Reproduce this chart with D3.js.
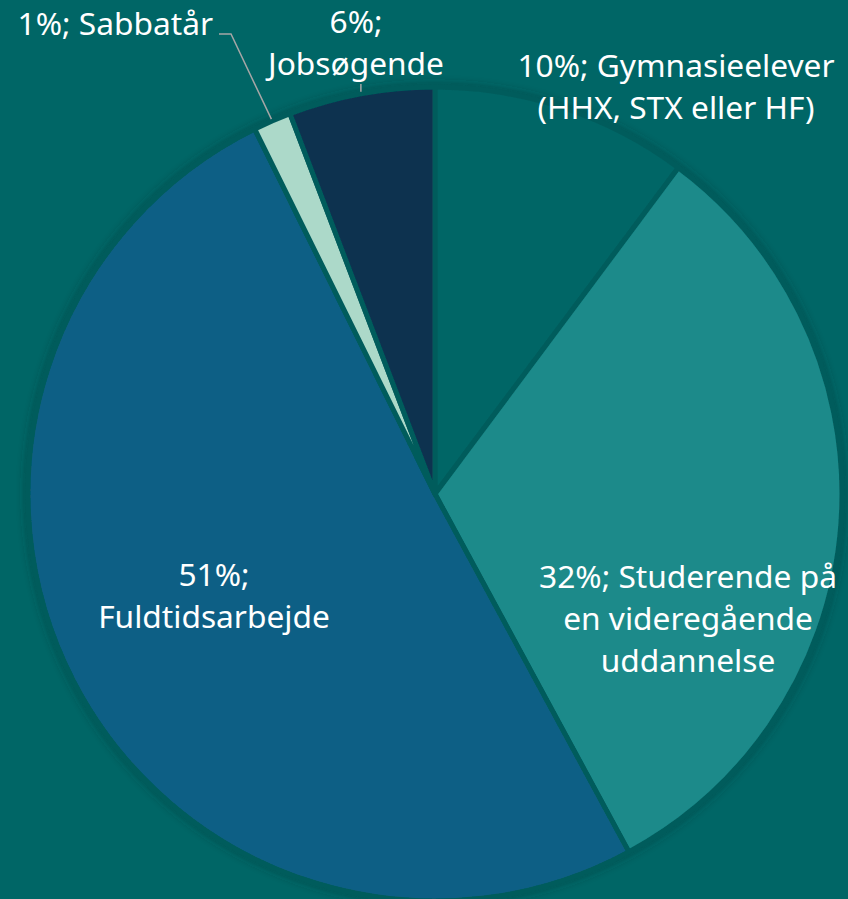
<!DOCTYPE html>
<html>
<head>
<meta charset="utf-8">
<script src="https://cdnjs.cloudflare.com/ajax/libs/d3/7.8.5/d3.min.js"></script>
<style>
  html, body { margin: 0; padding: 0; background: #006666; overflow: hidden; }
  svg { display: block; }
  .lbl { font-family: "Noto Sans", "Open Sans", sans-serif; font-size: 31.7px; fill: #ffffff; }
</style>
</head>
<body>
<svg id="chart" width="848" height="899"></svg>
<script>
// slices, clockwise from 12 o'clock
var categories = ["Gymnasieelever", "Studerende", "Fuldtidsarbejde", "Sabbatår", "Jobsøgende"];
var values = [10.2, 31.9, 50.6, 1.5, 5.8];
var colors = ["#006666", "#1a8a8a", "#0b5f85", "#acd9c9", "#0a3150"];
var labelLines = [
    ["10%; Gymnasieelever", "(HHX, STX eller HF)"],
    ["32%; Studerende på", "en videregående", "uddannelse"],
    ["51%;", "Fuldtidsarbejde"],
    ["1%; Sabbatår"],
    ["6%;", "Jobsøgende"]
];

var width = 848, height = 899;
var cx = 435, cy = 494, radius = 407;

var svg = d3.select("#chart");

var defs = svg.append("defs");
var shadow = defs.append("filter")
    .attr("id", "pieShadow")
    .attr("x", "-10%").attr("y", "-10%")
    .attr("width", "120%").attr("height", "120%");
shadow.append("feDropShadow")
    .attr("dx", 0).attr("dy", 0)
    .attr("stdDeviation", 5)
    .attr("flood-color", "#003030")
    .attr("flood-opacity", 0.5);

var pie = d3.pie().sort(null).value(function (d) { return d; });
var arcs = pie(values);
var arc = d3.arc().innerRadius(0).outerRadius(radius);

var g = svg.append("g").attr("transform", "translate(" + cx + "," + cy + ")");

g.append("g")
    .attr("filter", "url(#pieShadow)")
    .selectAll("path")
    .data(arcs)
    .enter()
    .append("path")
    .attr("d", arc)
    .attr("fill", function (d, i) { return colors[i]; })
    .attr("stroke", "#045c5c")
    .attr("stroke-width", 5)
    .attr("stroke-linejoin", "round");

// label anchor points (first baseline, absolute coords)
var labelPos = [
    { x: 676, y: 77, anchor: "middle" },
    { x: 688, y: 588, anchor: "middle" },
    { x: 214, y: 586, anchor: "middle" },
    { x: 213, y: 35, anchor: "end" },
    { x: 356, y: 33, anchor: "middle" }
];
var lineHeight = 42;

// leader lines for the two small slices
var angle = function (d) { return (d.startAngle + d.endAngle) / 2; };
var edgePt = function (d, r) {
    var a = angle(d);
    return [cx + r * Math.sin(a), cy - r * Math.cos(a)];
};

var sab = edgePt(arcs[3], radius + 2);
svg.append("polyline")
    .attr("points", [[219, 34], [231, 34], sab].map(function (p) { return p.join(","); }).join(" "))
    .attr("fill", "none")
    .attr("stroke", "#a6a6a6")
    .attr("stroke-width", 1.5);

var job = edgePt(arcs[4], radius + 2);
svg.append("line")
    .attr("x1", job[0]).attr("y1", job[1])
    .attr("x2", job[0]).attr("y2", 84)
    .attr("stroke", "#a6a6a6")
    .attr("stroke-width", 1.5);

svg.append("g")
    .selectAll("text")
    .data(labelLines)
    .enter()
    .append("text")
    .attr("class", "lbl")
    .attr("text-anchor", function (d, i) { return labelPos[i].anchor; })
    .each(function (lines, i) {
        var t = d3.select(this);
        lines.forEach(function (line, j) {
            t.append("tspan")
                .attr("x", labelPos[i].x)
                .attr("y", labelPos[i].y + j * lineHeight)
                .text(line);
        });
    });
</script>
</body>
</html>
